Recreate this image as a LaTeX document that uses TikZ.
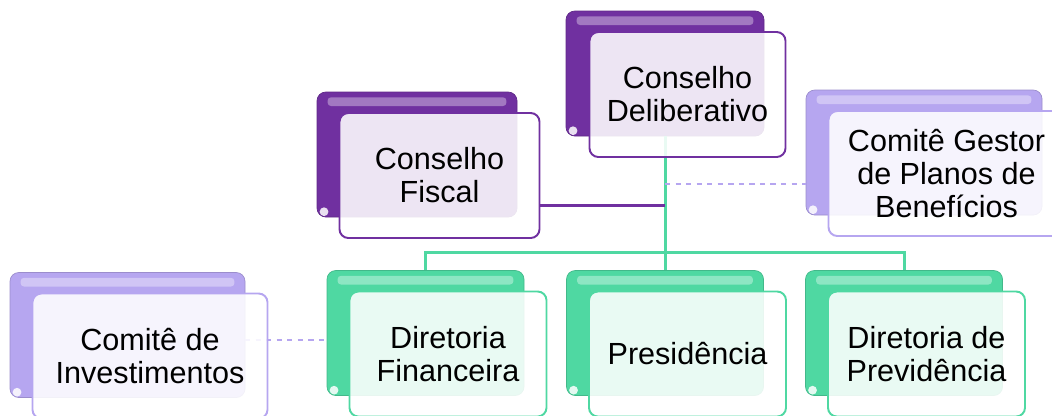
\documentclass[tikz,border=0pt]{standalone}
\usepackage{fontspec}
\setmainfont{Liberation Sans}

\definecolor{boardpurple}{HTML}{7030A0}
\definecolor{committeelav}{HTML}{B6A6F0}
\definecolor{directorgreen}{HTML}{4FD8A2}

\tikzset{
  backbox/.style={rounded corners=5pt, fill=#1, draw=#1!85!black, line width=0.4pt,
    minimum height=2.5cm, inner sep=0pt,
    path picture={
      \fill[#1!65!white, rounded corners=2pt]
        ([shift={(6pt,-3pt)}]path picture bounding box.north west) rectangle
        ([shift={(-6pt,-8pt)}]path picture bounding box.north east);
      \fill[white, opacity=0.85]
        ([shift={(4pt,3pt)}]path picture bounding box.south west) circle [radius=2.5pt];
    }},
  frontbox/.style={rounded corners=5pt, fill=white, fill opacity=0.88, text opacity=1,
    draw=#1, line width=1.1pt, minimum height=2.5cm, align=center,
    font=\fontsize{17.4}{18.8}\selectfont},
  trunk/.style={directorgreen, line width=1.7pt},
  fiscalline/.style={boardpurple, line width=1.7pt},
  advisory/.style={committeelav, line width=0.8pt, dashed},
}

\begin{document}
\begin{tikzpicture}
  \useasboundingbox (0,0) rectangle (21.04,-8.3);
  \clip (0,0) rectangle (21.04,-8.3);

  % back plates
  \foreach \nm/\pos/\col/\boxw in {
    delib/{(13.3,-1.47)}/boardpurple/3.96,
    fiscal/{(8.34,-3.09)}/boardpurple/4.0,
    gestor/{(18.48,-3.05)}/committeelav/4.72,
    invest/{(2.55,-6.7)}/committeelav/4.7,
    fin/{(8.51,-6.66)}/directorgreen/3.94,
    pres/{(13.3,-6.66)}/directorgreen/3.94,
    prev/{(18.08,-6.66)}/directorgreen/3.94} {
    \node[backbox=\col, minimum width=\boxw cm] (\nm) at \pos {};
  }

  % connectors
  \coordinate (fiscjoin) at (delib.south |- 0,-4.1);
  \coordinate (gestjoin) at (delib.south |- 0,-3.68);
  \draw[trunk] (delib.south) -- (pres.north);
  \draw[trunk] (fin.north) -- ++(0,0.36) -| (prev.north);
  \draw[advisory] (gestjoin) -- (gestor.west |- gestjoin);
  \draw[advisory] (4.9,-6.8) coordinate (investjoin) -- (fin.west |- investjoin);

  % front cards
  \foreach \nm/\col/\boxw/\txt in {
    delib/boardpurple/3.92/{Conselho\\Deliberativo},
    fiscal/boardpurple/4.0/{Conselho\\Fiscal},
    gestor/committeelav/4.72/{Comitê Gestor\\de Planos de\\Benefícios},
    invest/committeelav/4.7/{Comitê de\\Investimentos},
    fin/directorgreen/3.94/{Diretoria\\Financeira},
    pres/directorgreen/3.94/{Presidência},
    prev/directorgreen/3.94/{Diretoria de\\Previdência}} {
    \node[frontbox=\col, minimum width=\boxw cm] (\nm F) at ([shift={(0.45,-0.42)}]\nm.center) {\txt};
  }

  \draw[fiscalline] (fiscalF.east |- fiscjoin) -- (fiscjoin);
\end{tikzpicture}
\end{document}
